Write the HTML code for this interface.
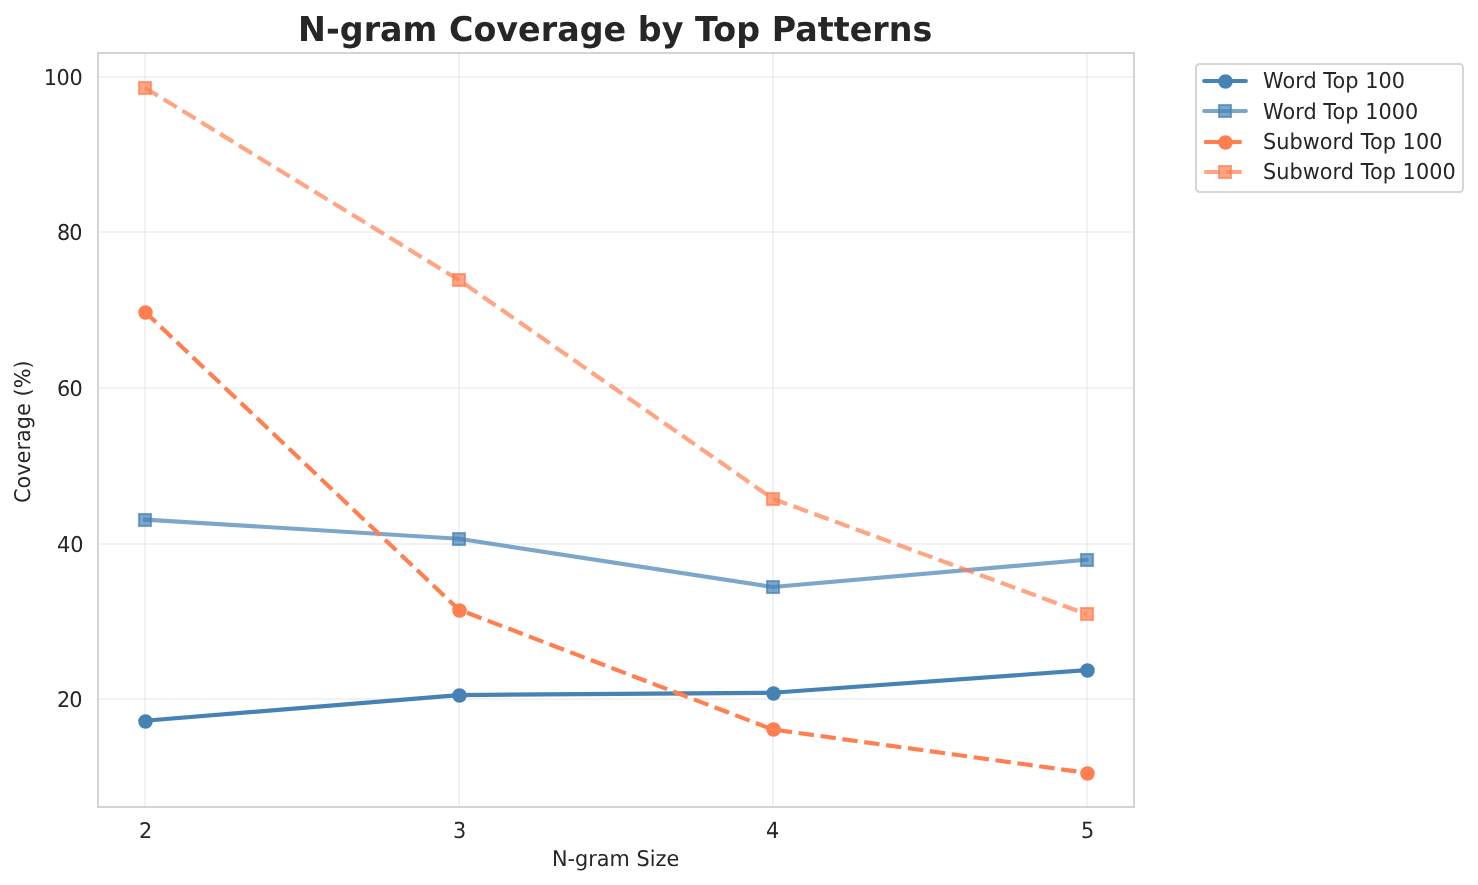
<!DOCTYPE html>
<html lang="en"><head><meta charset="utf-8"><title>N-gram Coverage by Top Patterns</title>
<style>
html,body{margin:0;padding:0;background:#fff}
body{width:1478px;height:885px;overflow:hidden}
svg{display:block}
text{font-family:"DejaVu Sans","Liberation Sans",sans-serif;font-size:20.8333px;fill:#262626;text-rendering:geometricPrecision}
.title{font-size:33.3333px;font-weight:bold}
.grid line{stroke:#ccc;stroke-opacity:.25;stroke-width:2}
.ln{fill:none;stroke-width:4.1667;stroke-linejoin:round}
.mk{stroke-width:2.0833}
</style></head><body>
<svg width="1478" height="885" viewBox="0 0 1478 885">
<rect width="1478" height="885" fill="#fff"/>
<g class="grid">
<line x1="145" y1="53.5" x2="145" y2="807.08"/>
<line x1="459" y1="53.5" x2="459" y2="807.08"/>
<line x1="773" y1="53.5" x2="773" y2="807.08"/>
<line x1="1087" y1="53.5" x2="1087" y2="807.08"/>
<line x1="97.67" y1="77" x2="1133.65" y2="77"/>
<line x1="97.67" y1="232" x2="1133.65" y2="232"/>
<line x1="97.67" y1="388" x2="1133.65" y2="388"/>
<line x1="97.67" y1="544" x2="1133.65" y2="544"/>
<line x1="97.67" y1="699" x2="1133.65" y2="699"/>
</g>
<clipPath id="ax"><rect x="97.67" y="53.5" width="1035.98" height="753.58"/></clipPath>
<g clip-path="url(#ax)">
<polyline class="ln" points="144.76,720.73 458.69,695.07 772.63,692.74 1086.56,670.18" stroke="#4682b4" stroke-linecap="round"/>
<circle class="mk" cx="145.5" cy="721.5" r="6.25" fill="#4682b4" stroke="#4682b4"/>
<circle class="mk" cx="459.5" cy="695.5" r="6.25" fill="#4682b4" stroke="#4682b4"/>
<circle class="mk" cx="773.5" cy="693.5" r="6.25" fill="#4682b4" stroke="#4682b4"/>
<circle class="mk" cx="1087.5" cy="670.5" r="6.25" fill="#4682b4" stroke="#4682b4"/>
<polyline class="ln" points="144.76,519.62 458.69,538.77 772.63,586.98 1086.56,559.76" stroke="#4682b4" stroke-opacity="0.7" stroke-linecap="round"/>
<rect class="mk" x="139" y="514" width="12" height="12" fill="#4682b4" stroke="#4682b4" fill-opacity="0.7" stroke-opacity="0.7"/>
<rect class="mk" x="453" y="533" width="12" height="12" fill="#4682b4" stroke="#4682b4" fill-opacity="0.7" stroke-opacity="0.7"/>
<rect class="mk" x="767" y="581" width="12" height="12" fill="#4682b4" stroke="#4682b4" fill-opacity="0.7" stroke-opacity="0.7"/>
<rect class="mk" x="1081" y="554" width="12" height="12" fill="#4682b4" stroke="#4682b4" fill-opacity="0.7" stroke-opacity="0.7"/>
<polyline class="ln" points="144.76,311.68 458.69,609.55 772.63,729.45 1086.56,772.83" stroke="#ff7f50" stroke-dasharray="15.417 6.667" stroke-linecap="butt"/>
<circle class="mk" cx="145.5" cy="312.5" r="6.25" fill="#ff7f50" stroke="#ff7f50"/>
<circle class="mk" cx="459.5" cy="610.5" r="6.25" fill="#ff7f50" stroke="#ff7f50"/>
<circle class="mk" cx="773.5" cy="729.5" r="6.25" fill="#ff7f50" stroke="#ff7f50"/>
<circle class="mk" cx="1087.5" cy="773.5" r="6.25" fill="#ff7f50" stroke="#ff7f50"/>
<polyline class="ln" points="144.76,87.75 458.69,279.82 772.63,498.62 1086.56,614.2" stroke="#ff7f50" stroke-opacity="0.7" stroke-dasharray="15.417 6.667" stroke-linecap="butt"/>
<rect class="mk" x="139" y="82" width="12" height="12" fill="#ff7f50" stroke="#ff7f50" fill-opacity="0.7" stroke-opacity="0.7"/>
<rect class="mk" x="453" y="274" width="12" height="12" fill="#ff7f50" stroke="#ff7f50" fill-opacity="0.7" stroke-opacity="0.7"/>
<rect class="mk" x="767" y="493" width="12" height="12" fill="#ff7f50" stroke="#ff7f50" fill-opacity="0.7" stroke-opacity="0.7"/>
<rect class="mk" x="1081" y="608" width="12" height="12" fill="#ff7f50" stroke="#ff7f50" fill-opacity="0.7" stroke-opacity="0.7"/>
</g>
<rect x="98" y="53" width="1036" height="754" fill="none" stroke="#ccc" stroke-width="1.6667"/>
<text transform="translate(82.33 85) scale(1 1.05)" text-anchor="end" letter-spacing="-0.4">100</text>
<text transform="translate(81.58 240) scale(1 1.05)" text-anchor="end" letter-spacing="-1">80</text>
<text transform="translate(82.08 396) scale(1 1.04)" text-anchor="end" letter-spacing="-0.75">60</text>
<text transform="translate(83.58 552) scale(1 1.05)" text-anchor="end">40</text>
<text transform="translate(81.58 707) scale(1 1.035)" text-anchor="end" letter-spacing="-1">20</text>
<text transform="translate(145.76 838) scale(1 1.03)" text-anchor="middle" letter-spacing="0.02">2</text>
<text transform="translate(459.69 838) scale(1 1.06)" text-anchor="middle">3</text>
<text transform="translate(772.62 838) scale(1 1.065)" text-anchor="middle">4</text>
<text transform="translate(1087.56 838) scale(1 1.075)" text-anchor="middle">5</text>
<text transform="translate(615.56 866) scale(1 1.04)" text-anchor="middle">N-gram Size</text>
<text transform="translate(29.5 431.69) rotate(-90) scale(1 1.035)" text-anchor="middle" letter-spacing="0.025">Coverage (%)</text>
<text class="title" transform="translate(615.16 41) scale(1 1.025)" text-anchor="middle" letter-spacing="0.015">N-gram Coverage by Top Patterns</text>
<g>
<path d="M1200.17 64H1458.83Q1463 64 1463 68.17V187.83Q1463 192 1458.83 192H1200.17Q1196 192 1196 187.83V68.17Q1196 64 1200.17 64Z" fill="#fff" fill-opacity=".8" stroke="#ccc" stroke-opacity=".8" stroke-width="2.0833"/>
<line class="ln" x1="1204.19" y1="81" x2="1245.86" y2="81" stroke="#4682b4" stroke-linecap="round"/>
<circle class="mk" cx="1225.5" cy="81.5" r="6.25" fill="#4682b4" stroke="#4682b4"/>
<text transform="translate(1263.03 88) scale(1 1.05)" letter-spacing="0.02">Word Top 100</text>
<line class="ln" x1="1204.19" y1="111" x2="1245.86" y2="111" stroke="#4682b4" stroke-opacity="0.7" stroke-linecap="round"/>
<rect class="mk" x="1219" y="105" width="12" height="12" fill="#4682b4" stroke="#4682b4" fill-opacity="0.7" stroke-opacity="0.7"/>
<text transform="translate(1263.03 119) scale(1 1.05)" letter-spacing="0.02">Word Top 1000</text>
<line class="ln" x1="1204.19" y1="142" x2="1245.86" y2="142" stroke="#ff7f50" stroke-dasharray="15.417 6.667" stroke-linecap="butt"/>
<circle class="mk" cx="1225.5" cy="142.5" r="6.25" fill="#ff7f50" stroke="#ff7f50"/>
<text transform="translate(1263.03 149) scale(1 1.05)" letter-spacing="0.03">Subword Top 100</text>
<line class="ln" x1="1204.19" y1="172" x2="1245.86" y2="172" stroke="#ff7f50" stroke-opacity="0.7" stroke-dasharray="15.417 6.667" stroke-linecap="butt"/>
<rect class="mk" x="1219" y="166" width="12" height="12" fill="#ff7f50" stroke="#ff7f50" fill-opacity="0.7" stroke-opacity="0.7"/>
<text transform="translate(1263.03 179) scale(1 1.05)" letter-spacing="0.03">Subword Top 1000</text>
</g>
</svg>
</body></html>
